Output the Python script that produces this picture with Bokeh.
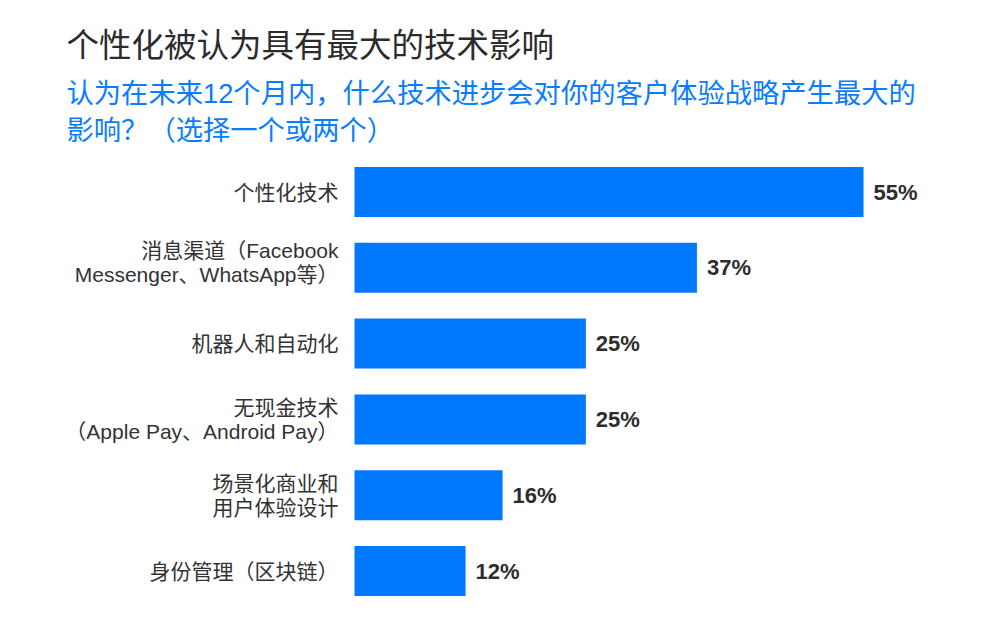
from bokeh.plotting import figure
from bokeh.models import Range1d, ColumnDataSource
from bokeh.core.properties import value
from bokeh.embed import file_html
from bokeh.resources import INLINE

title = "个性化被认为具有最大的技术影响"
subtitle_lines = ["认为在未来12个月内，什么技术进步会对你的客户体验战略产生最大的",
                  "影响？（选择一个或两个）"]
categories = ["个性化技术",
              "消息渠道（Facebook\nMessenger、WhatsApp等）",
              "机器人和自动化",
              "无现金技术\n（Apple Pay、Android Pay）",
              "场景化商业和\n用户体验设计",
              "身份管理（区块链）"]
values = [55, 37, 25, 25, 16, 12]
value_labels = [f"{v}%" for v in values]

W, H = 984, 604
BAR_COLOR = "#0078ff"
FONT = "Liberation Sans, Noto Sans CJK SC"

# layout (pixel positions in the figure)
bar_x0_px = 354.0
px_per_unit = 509.0 / 55.0
row0_px = 191.5
row_pitch = 75.8
label_nudge = [0, -5, 0, 0, 0, 0]  # screen px vertical tweak for category labels

x_start = -bar_x0_px / px_per_unit
x_end = (W - bar_x0_px) / px_per_unit
y_top = -row0_px / row_pitch
y_bottom = (H - row0_px) / row_pitch

def px_x(px):
    return x_start + px / px_per_unit

def px_y(py):
    return (py - row0_px) / row_pitch

p = figure(width=W, height=H, output_backend="svg", toolbar_location=None,
           x_range=Range1d(x_start, x_end), y_range=Range1d(y_bottom, y_top),
           min_border=0, min_border_left=0, min_border_right=0,
           min_border_top=0, min_border_bottom=0)
p.xaxis.visible = False
p.yaxis.visible = False
p.xgrid.visible = False
p.ygrid.visible = False
p.outline_line_color = None
p.background_fill_color = "white"
p.border_fill_color = "white"

idx = list(range(len(categories)))
src = ColumnDataSource(dict(y=idx, v=values, cat=categories, lab=value_labels,
                            zero=[0] * len(idx), nudge=label_nudge))

p.hbar(y="y", left="zero", right="v", height=0.66, source=src,
       fill_color=BAR_COLOR, line_color=None)

p.text(x="zero", y="y", text="cat", source=src, x_offset=-16, y_offset="nudge",
       text_align="right", text_baseline="middle",
       text_font=value(FONT), text_font_size="21px", text_color="#333333",
       text_line_height=1.05)

p.text(x="v", y="y", text="lab", source=src, x_offset=10,
       text_align="left", text_baseline="middle",
       text_font=value(FONT), text_font_size="22px", text_font_style="bold",
       text_color="#2d2d2d")

p.text(x=[px_x(66)], y=[px_y(45)], text=[title],
       text_align="left", text_baseline="middle",
       text_font=value(FONT), text_font_size="32.5px", text_color="#2b2b2b")

p.text(x=[px_x(66), px_x(66)], y=[px_y(93), px_y(130)], text=subtitle_lines,
       text_align="left", text_baseline="middle",
       text_font=value(FONT), text_font_size="27.3px", text_color="#0a7cff")

open("out.html", "w").write(file_html(p, INLINE))
